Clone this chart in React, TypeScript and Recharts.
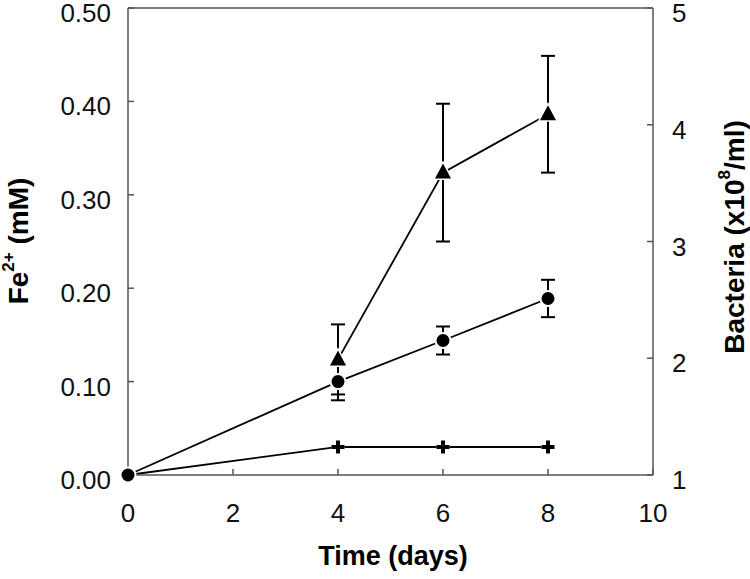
import React from 'react';
import {
  LineChart,
  Line,
  XAxis,
  YAxis,
  ErrorBar,
  ReferenceLine,
} from 'recharts';

const days = [0, 4, 6, 8];
const feValues = [0, 0.1, 0.144, 0.189];
const feErrors = [0, 0.02, 0.015, 0.02];
const controlValues = [0, 0.03, 0.03, 0.03];
const bacteriaValues = [null, 1.99, 3.59, 4.09];
const bacteriaErrors = [null, 0.3, 0.59, 0.5];

const xTicks = [0, 2, 4, 6, 8, 10];
const leftTicks = [0, 0.1, 0.2, 0.3, 0.4, 0.5];
const rightTicks = [1, 2, 3, 4, 5];

const data = days.map((day, i) => ({
  day,
  fe: feValues[i],
  feErr: feErrors[i],
  control: controlValues[i],
  bacteria: bacteriaValues[i],
  bacteriaErr: bacteriaErrors[i],
}));

const FONT = 'Arial, "Liberation Sans", Helvetica, sans-serif';
const AXIS = '#555';
const TICK_FONT = 26;

type TickProps = { x?: number; y?: number; payload?: { value: number } };

// y-axis labels sit a few px below their tick in the original
function LeftTick({ x, y, payload }: TickProps) {
  return (
    <text x={x} y={(y ?? 0) + 5} textAnchor="end" dominantBaseline="central" fontSize={TICK_FONT} fontFamily={FONT} fill="#111">
      {payload ? payload.value.toFixed(2) : ''}
    </text>
  );
}

function RightTick({ x, y, payload }: TickProps) {
  return (
    <text x={x} y={(y ?? 0) + 5} textAnchor="start" dominantBaseline="central" fontSize={TICK_FONT} fontFamily={FONT} fill="#111">
      {payload ? payload.value : ''}
    </text>
  );
}

function BottomTick({ x, y, payload }: TickProps) {
  return (
    <text x={x} y={(y ?? 0) + 35} textAnchor="middle" fontSize={TICK_FONT} fontFamily={FONT} fill="#111">
      {payload ? payload.value : ''}
    </text>
  );
}

type DotProps = { cx?: number; cy?: number; index?: number; value?: unknown };

function CircleDot({ cx, cy, index }: DotProps) {
  if (cx == null || cy == null) return <g key={`c-${index}`} />;
  return <circle key={`c-${index}`} cx={cx} cy={cy} r={7.5} fill="#000" stroke="#fff" strokeWidth={2} />;
}

function TriangleDot({ cx, cy, index, value }: DotProps) {
  if (cx == null || cy == null || value == null) return <g key={`t-${index}`} />;
  const s = 8;
  const d = `M${cx},${cy - s - 1} L${cx + s},${cy + s - 2} L${cx - s},${cy + s - 2} Z`;
  return <path key={`t-${index}`} d={d} fill="#000" stroke="#fff" strokeWidth={3} paintOrder="stroke" />;
}

function CrossDot({ cx, cy, index }: DotProps) {
  if (cx == null || cy == null) return <g key={`x-${index}`} />;
  const a = 6.5;
  const d = `M${cx - a},${cy} L${cx + a},${cy} M${cx},${cy - a} L${cx},${cy + a}`;
  return (
    <g key={`x-${index}`}>
      <path d={d} stroke="#fff" strokeWidth={8} />
      <path d={d} stroke="#000" strokeWidth={4} />
    </g>
  );
}

export default function App() {
  return (
    <div style={{ position: 'absolute', left: 0, top: 0, width: 750, height: 579, background: '#fff' }}>
      <LineChart width={750} height={579} data={data} margin={{ top: 8, right: 0, bottom: 0, left: 0 }}>
        <XAxis
          dataKey="day"
          type="number"
          domain={[0, 10]}
          ticks={xTicks}
          tickSize={-6}
          tickMargin={18}
          height={104}
          stroke={AXIS}
          strokeWidth={1.5}
          tick={<BottomTick />}
          interval={0}
        />
        <YAxis
          yAxisId="left"
          domain={[0, 0.5]}
          ticks={leftTicks}
          tickSize={-6}
          tickMargin={23}
          width={128}
          stroke={AXIS}
          strokeWidth={1.5}
          tick={<LeftTick />}
          interval={0}
        />
        <YAxis
          yAxisId="right"
          orientation="right"
          domain={[1, 5]}
          ticks={rightTicks}
          tickSize={-6}
          tickMargin={25}
          width={97}
          stroke={AXIS}
          strokeWidth={1.5}
          tick={<RightTick />}
          interval={0}
        />
        <ReferenceLine yAxisId="left" y={0.5} stroke={AXIS} strokeWidth={1.5} />
        <Line
          yAxisId="left"
          dataKey="control"
          stroke="#000"
          strokeWidth={1.8}
          dot={(p: DotProps) => <CrossDot key={`x-${p.index}`} {...p} />}
          isAnimationActive={false}
        />
        <Line
          yAxisId="right"
          dataKey="bacteria"
          stroke="#000"
          strokeWidth={1.8}
          connectNulls={false}
          dot={(p: DotProps) => <TriangleDot key={`t-${p.index}`} {...p} />}
          isAnimationActive={false}
        >
          <ErrorBar dataKey="bacteriaErr" width={7} stroke="#000" strokeWidth={2} />
        </Line>
        <Line
          yAxisId="left"
          dataKey="fe"
          stroke="#000"
          strokeWidth={1.8}
          dot={(p: DotProps) => <CircleDot key={`c-${p.index}`} {...p} />}
          isAnimationActive={false}
        >
          <ErrorBar dataKey="feErr" width={7} stroke="#000" strokeWidth={2} />
        </Line>
      </LineChart>
      <svg width={750} height={579} style={{ position: 'absolute', left: 0, top: 0, pointerEvents: 'none' }}>
        <text
          transform="translate(18,241) rotate(-90)"
          textAnchor="middle"
          dominantBaseline="central"
          fontFamily={FONT}
          fontWeight="bold"
          fontSize={28}
          fill="#000"
        >
          Fe
          <tspan fontSize={17} dy={-10}>2+</tspan>
          <tspan dy={10}> (mM)</tspan>
        </text>
        <text
          transform="translate(734,237) rotate(-90)"
          textAnchor="middle"
          dominantBaseline="central"
          fontFamily={FONT}
          fontWeight="bold"
          fontSize={28}
          fill="#000"
        >
          Bacteria (x10
          <tspan fontSize={17} dy={-10}>8</tspan>
          <tspan dy={10}>/ml)</tspan>
        </text>
        <text x={393} y={565} textAnchor="middle" fontFamily={FONT} fontWeight="bold" fontSize={27} fill="#000">
          Time (days)
        </text>
      </svg>
    </div>
  );
}
